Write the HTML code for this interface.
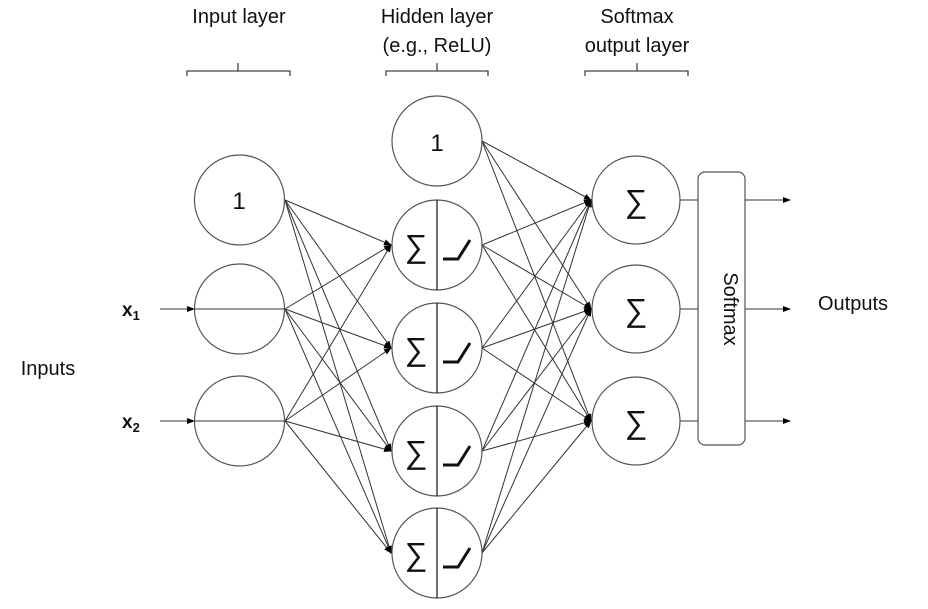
<!DOCTYPE html>
<html><head><meta charset="utf-8"><style>
body{margin:0;background:#fff}
svg text{font-family:"Liberation Sans","Noto Sans CJK KR",sans-serif;fill:#111}
</style></head><body>
<svg width="928" height="604" viewBox="0 0 928 604" xmlns="http://www.w3.org/2000/svg">
<defs><marker id="a" markerWidth="8" markerHeight="8" refX="7" refY="4" orient="auto" markerUnits="userSpaceOnUse"><path d="M0,1 L8,4 L0,7 Z" fill="#000"/></marker></defs>
<g font-size="20" text-anchor="middle">
<text x="239" y="23">Input layer</text>
<text x="437" y="23">Hidden layer</text>
<text x="437" y="52">(e.g., ReLU)</text>
<text x="637" y="23">Softmax</text>
<text x="637" y="52">output layer</text>
<text x="48" y="375">Inputs</text>
<text x="853" y="310">Outputs</text>
</g>
<g fill="none" stroke="#444" stroke-width="1.3">
<path d="M187,76 V71 H290 V76 M238,71 V63"/>
<path d="M386,76 V71 H488 V76 M437,71 V63"/>
<path d="M585,76 V71 H688 V76 M637,71 V63"/>
</g>
<g stroke="#333" stroke-width="1" marker-end="url(#a)">
<line x1="285" y1="200" x2="391" y2="245"/><line x1="285" y1="200" x2="391" y2="348"/><line x1="285" y1="200" x2="391" y2="451"/><line x1="285" y1="200" x2="391" y2="553"/>
<line x1="285" y1="309" x2="391" y2="245"/><line x1="285" y1="309" x2="391" y2="348"/><line x1="285" y1="309" x2="391" y2="451"/><line x1="285" y1="309" x2="391" y2="553"/>
<line x1="285" y1="421" x2="391" y2="245"/><line x1="285" y1="421" x2="391" y2="348"/><line x1="285" y1="421" x2="391" y2="451"/><line x1="285" y1="421" x2="391" y2="553"/>
<line x1="482" y1="141" x2="591" y2="200"/><line x1="482" y1="141" x2="591" y2="309"/><line x1="482" y1="141" x2="591" y2="421"/>
<line x1="482" y1="245" x2="591" y2="200"/><line x1="482" y1="245" x2="591" y2="309"/><line x1="482" y1="245" x2="591" y2="421"/>
<line x1="482" y1="348" x2="591" y2="200"/><line x1="482" y1="348" x2="591" y2="309"/><line x1="482" y1="348" x2="591" y2="421"/>
<line x1="482" y1="451" x2="591" y2="200"/><line x1="482" y1="451" x2="591" y2="309"/><line x1="482" y1="451" x2="591" y2="421"/>
<line x1="482" y1="553" x2="591" y2="200"/><line x1="482" y1="553" x2="591" y2="309"/><line x1="482" y1="553" x2="591" y2="421"/>
<line x1="745" y1="200" x2="790" y2="200"/><line x1="745" y1="309" x2="790" y2="309"/><line x1="745" y1="421" x2="790" y2="421"/>
<line x1="160" y1="309" x2="194" y2="309"/><line x1="160" y1="421" x2="194" y2="421"/>
</g>
<g stroke="#333" stroke-width="1"><line x1="680" y1="200" x2="698" y2="200"/><line x1="680" y1="309" x2="698" y2="309"/><line x1="680" y1="421" x2="698" y2="421"/>
<line x1="194" y1="309" x2="285" y2="309"/><line x1="194" y1="421" x2="285" y2="421"/></g>
<g fill="none" stroke="#555" stroke-width="1.2">
<circle cx="239.5" cy="200" r="45" fill="#fff"/>
<circle cx="239.5" cy="309" r="45"/>
<circle cx="239.5" cy="421" r="45"/>
<circle cx="437" cy="141" r="45" fill="#fff"/>
<circle cx="437" cy="245" r="45" fill="#fff"/><circle cx="437" cy="348" r="45" fill="#fff"/><circle cx="437" cy="451" r="45" fill="#fff"/><circle cx="437" cy="553" r="45" fill="#fff"/>
<circle cx="636" cy="200" r="44" fill="#fff"/><circle cx="636" cy="309" r="44" fill="#fff"/><circle cx="636" cy="421" r="44" fill="#fff"/>
<rect x="698" y="172" width="47" height="273" rx="7" fill="#fff"/>
</g>
<g stroke="#111" stroke-width="1.2"><line x1="437" y1="200" x2="437" y2="290"/><line x1="437" y1="303" x2="437" y2="393"/><line x1="437" y1="406" x2="437" y2="496"/><line x1="437" y1="508" x2="437" y2="598"/></g>
<g fill="none" stroke="#111" stroke-width="3"><path d="M443,259 H458 L470,240"/><path d="M443,362 H458 L470,343"/><path d="M443,465 H458 L470,446"/><path d="M443,567 H458 L470,548"/></g>
<g font-size="24" text-anchor="middle">
<text x="239" y="209">1</text><text x="437" y="151">1</text>
</g>
<g font-size="32" text-anchor="middle" font-family="DejaVu Sans" style="font-weight:200">
<text x="416" y="257" font-family="DejaVu Sans">∑</text><text x="416" y="360" font-family="DejaVu Sans">∑</text><text x="416" y="463" font-family="DejaVu Sans">∑</text><text x="416" y="565" font-family="DejaVu Sans">∑</text>
<text x="636" y="212" font-family="DejaVu Sans">∑</text><text x="636" y="321" font-family="DejaVu Sans">∑</text><text x="636" y="433" font-family="DejaVu Sans">∑</text>
</g>
<text x="722" y="309" font-size="20" text-anchor="middle" transform="rotate(90 722 309)" dy="-2">Softmax</text>
<text x="122" y="316" font-size="19" font-weight="bold">x<tspan font-size="13" dy="4">1</tspan></text>
<text x="122" y="428" font-size="19" font-weight="bold">x<tspan font-size="13" dy="4">2</tspan></text>
</svg>
</body></html>
